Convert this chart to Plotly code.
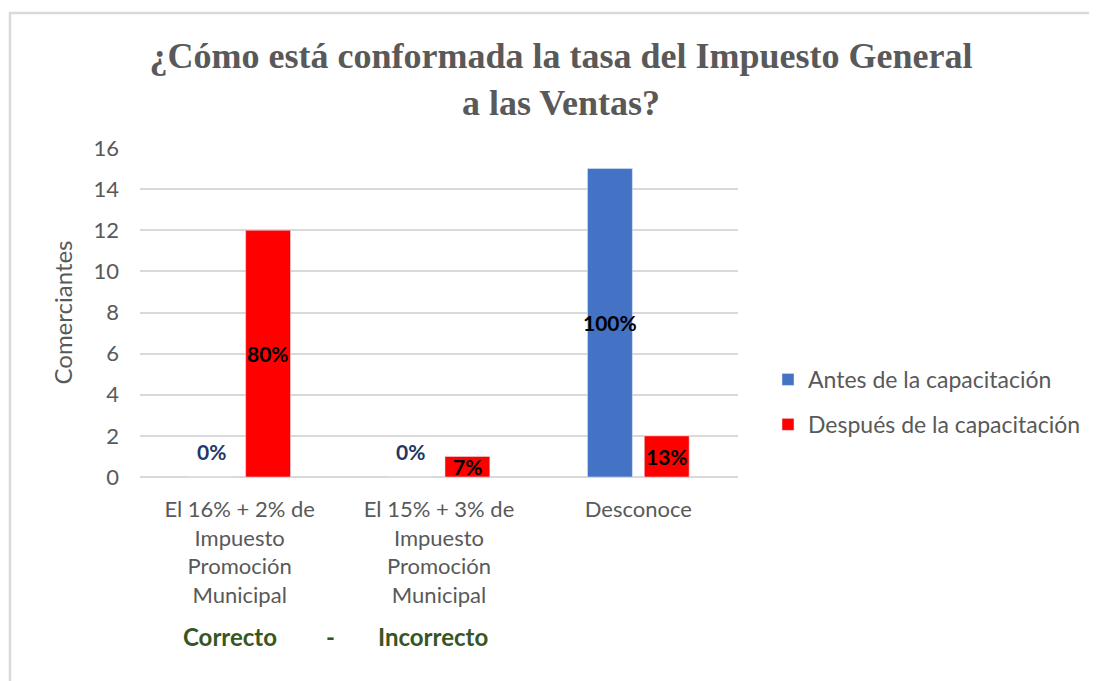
import plotly.graph_objects as go

categories = ["El 16% + 2% de<br>Impuesto<br>Promoción<br>Municipal",
              "El 15% + 3% de<br>Impuesto<br>Promoción<br>Municipal",
              "Desconoce"]
series_names = ["Antes de la capacitación", "Después de la capacitación"]
antes = [0, 0, 15]
despues = [12, 1, 2]
antes_labels = ["0%", "0%", "100%"]
despues_labels = ["80%", "7%", "13%"]
y_ticks = [0, 2, 4, 6, 8, 10, 12, 14, 16]

OFF = 8  # browser body margin
W, H = 1097, 681
L, T = 140 - OFF, 148 - OFF
R = W - (738 - OFF)
B = H - (477 - OFF)
PW = W - L - R
PH = H - T - B
BLUE = "#4472C4"
RED = "#FF0000"
GRAY = "#595959"
FONT = "Lato"

fig = go.Figure()
fig.add_trace(go.Bar(name=series_names[0], x=categories, y=antes, marker_color=BLUE,
                     legendgroup="a", offsetgroup="a"))
fig.add_trace(go.Bar(name=series_names[1], x=categories, y=despues, marker_color=RED,
                     legendgroup="b", offsetgroup="b"))

bargap = 0.43
bargroupgap = 0.21
slot = (1 - bargap) / 2
annotations = []
for vals, labs, off in [(antes, antes_labels, -slot / 2), (despues, despues_labels, slot / 2)]:
    for i, (v, lab) in enumerate(zip(vals, labs)):
        ypos = v / 2 if v > 0 else 1.25
        annotations.append(dict(x=i + off, y=ypos, xref="x", yref="y", text="<b>%s</b>" % lab,
                                showarrow=False, font=dict(family=FONT, size=21,
                                color=("#1F3864" if v == 0 else "black"))))

# bottom notes
for txt, px in [("Correcto", 230), ("-", 330), ("Incorrecto", 433)]:
    annotations.append(dict(x=(px - OFF - L) / PW, y=-(636 - OFF - (H - B)) / PH,
                            xref="paper", yref="paper", text="<b>%s</b>" % txt, showarrow=False,
                            font=dict(family=FONT, size=24, color="#375623"),
                            xanchor="center", yanchor="middle"))

fig.update_layout(
    width=W, height=H,
    margin=dict(l=L, r=R, t=T, b=B),
    paper_bgcolor="white", plot_bgcolor="white",
    barmode="group", bargap=bargap, bargroupgap=bargroupgap,
    title=dict(text="<b>¿Cómo está conformada la tasa del Impuesto General<br>a las Ventas?</b>",
               x=(561 - OFF) / W, xref="container", xanchor="center",
               y=1 - 60 / H, yref="container", yanchor="top",
               font=dict(family="Liberation Serif", size=36, color=GRAY)),
    yaxis=dict(range=[0, 16], tickvals=y_ticks, showgrid=True, gridcolor="#D9D9D9", gridwidth=1.5,
               zeroline=True, zerolinecolor="#D9D9D9", zerolinewidth=1.5,
               tickfont=dict(family=FONT, size=22, color=GRAY), ticks="", ticklen=0,
               ticklabelstandoff=20,
               title=dict(text="Comerciantes", font=dict(family=FONT, size=24, color=GRAY), standoff=14),
               fixedrange=True),
    xaxis=dict(tickfont=dict(family=FONT, size=22, color=GRAY), showline=False, ticks="",
               ticklabelstandoff=17, fixedrange=True),
    legend=dict(x=(768 - OFF - L) / PW, y=(477 - 402) / PH, xanchor="left", yanchor="middle",
                font=dict(family=FONT, size=23, color=GRAY), traceorder="grouped",
                tracegroupgap=12, bgcolor="rgba(0,0,0,0)"),
    annotations=annotations,
    shapes=[dict(type="rect", xref="paper", yref="paper",
                 x0=-(L - (10 - OFF)) / PW, x1=(W + 50 - L) / PW,
                 y0=-(H + 50 - (H - B)) / PH, y1=1 + (T - (13 - OFF)) / PH,
                 line=dict(color="#D9D9D9", width=2.5), layer="below")],
)

fig.write_html("out.html")
